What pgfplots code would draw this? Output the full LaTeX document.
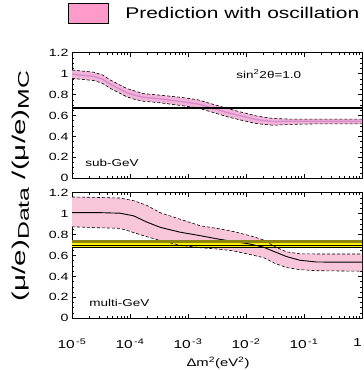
\documentclass[border=0pt]{standalone}
\usepackage{fontspec}
\setmainfont{Liberation Sans}[FakeStretch=1.35]
\newfontfamily\widefont{Liberation Sans}[FakeStretch=1.6]
\usepackage{pgfplots}
\pgfplotsset{compat=1.18}
\usepackage{pgfplotstable}
\usepgfplotslibrary{fillbetween}
\definecolor{bandtop}{HTML}{F0B4D8}
\definecolor{linetop}{HTML}{D68ACB}
\definecolor{bandbot}{HTML}{F8C6DA}
\definecolor{legpink}{HTML}{FF9ACB}
\definecolor{olivec}{HTML}{8C8410}
\definecolor{ybar}{HTML}{FFF200}

\pgfplotstableread{
x c u l
1e-5 0.995 1.035 0.955
2.34e-5 0.975 1.015 0.935
3.3e-5 0.95 0.99 0.91
4.57e-5 0.90 0.94 0.86
6.3e-5 0.86 0.90 0.82
8.71e-5 0.82 0.86 0.78
1.2e-4 0.795 0.835 0.755
1.70e-4 0.775 0.81 0.737
3.31e-4 0.76 0.795 0.722
7.24e-4 0.735 0.775 0.697
1.45e-3 0.712 0.752 0.674
2.69e-3 0.67 0.708 0.63
5.01e-3 0.625 0.665 0.585
7.94e-3 0.598 0.635 0.558
1.55e-2 0.56 0.595 0.522
2.95e-2 0.543 0.572 0.507
5.75e-2 0.545 0.566 0.515
1.45e-1 0.545 0.566 0.52
1 0.545 0.566 0.52
}\subgev

\pgfplotstableread{
x c u l
1e-5 1.01 1.16 0.875
3.16e-5 1.01 1.155 0.865
6.76e-5 1.005 1.15 0.86
1.15e-4 0.98 1.125 0.82
1.95e-4 0.92 1.08 0.78
3.31e-4 0.87 1.01 0.745
7.08e-4 0.825 0.95 0.70
1.62e-3 0.79 0.885 0.675
3.55e-3 0.755 0.855 0.66
6.03e-3 0.735 0.83 0.645
1.17e-2 0.71 0.79 0.61
2.0e-2 0.68 0.75 0.58
3.16e-2 0.635 0.685 0.525
5.01e-2 0.59 0.635 0.485
8.51e-2 0.555 0.617 0.465
1.66e-1 0.538 0.615 0.455
1 0.537 0.615 0.45
}\multigev

\pgfplotstableread{
x lo hi mid
1e-5 0.68 0.735 0.70
1 0.68 0.735 0.70
}\datamulti

\pgfplotstableread{
x y
1e-5 0.67
1 0.67
}\datasub

\pgfplotsset{
  mypanel/.style={
    scale only axis, width=290pt, height=125.5pt,
    xmin=1e-5, xmax=1, ymin=0, ymax=1.2,
    ytick={0,0.2,0.4,0.6,0.8,1,1.2},
    minor y tick num=3,
    xtick={1e-5,1e-4,1e-3,1e-2,1e-1,1},
    minor xtick={2e-5,3e-5,4e-5,5e-5,6e-5,7e-5,8e-5,9e-5,2e-4,3e-4,4e-4,5e-4,6e-4,7e-4,8e-4,9e-4,2e-3,3e-3,4e-3,5e-3,6e-3,7e-3,8e-3,9e-3,2e-2,3e-2,4e-2,5e-2,6e-2,7e-2,8e-2,9e-2,0.2,0.3,0.4,0.5,0.6,0.7,0.8,0.9},
    /pgf/number format/assume math mode=true,
    tick label style={font=\fontsize{10.5}{12}\selectfont},
    axis line style={line width=0.9pt},
    every tick/.style={black, line width=0.7pt},
    major tick length=4.5pt, minor tick length=2.5pt,
    tick align=inside,
  }
}

\begin{document}
\begin{tikzpicture}
% ---------- top panel: sub-GeV
\begin{axis}[xmode=log, mypanel, at={(72pt,191.7pt)}, anchor=south west,
  xticklabels={},
  legend style={draw=none, fill=none, at={(axis description cs:-0.014,1.395)}, anchor=north west,
    font=\fontsize{15.5}{18}\selectfont, inner sep=0pt, outer sep=0pt,
    /tikz/every odd column/.style={column sep=15pt}},
  legend cell align=left,
]
\addlegendimage{legend image code/.code={\draw[fill=legpink, draw=black, line width=0.5pt] (0pt,-10pt) rectangle (40pt,10pt);}}
\addlegendentry{Prediction with oscillation}
\addplot[draw=none, name path=su, forget plot] table[x=x, y=u] {\subgev};
\addplot[draw=none, name path=sl, forget plot] table[x=x, y=l] {\subgev};
\addplot[fill=bandtop, draw=none, forget plot] fill between[of=su and sl];
\addplot[linetop, line width=1.3pt, forget plot] table[x=x, y=c] {\subgev};
\addplot[black, dash pattern=on 3pt off 2pt, line width=0.6pt, forget plot] table[x=x, y=u] {\subgev};
\addplot[black, dash pattern=on 3pt off 2pt, line width=0.6pt, forget plot] table[x=x, y=l] {\subgev};
\addplot[black, line width=2.2pt, forget plot] table[x=x, y=y] {\datasub};
\node[anchor=west, font=\fontsize{10}{12}\selectfont] at (rel axis cs:0.555,0.83) {sin\textsuperscript{2}2θ=1.0};
\node[anchor=west, font=\fontsize{10}{12}\selectfont] at (rel axis cs:0.034,0.12) {sub-GeV};
\end{axis}
% ---------- bottom panel: multi-GeV
\begin{axis}[xmode=log, mypanel, at={(72pt,51.7pt)}, anchor=south west,
  xticklabels={10\textsuperscript{\,-5},10\textsuperscript{\,-4},10\textsuperscript{\,-3},10\textsuperscript{\,-2},10\textsuperscript{\,-1},\makebox[18pt][l]{1}},
  xticklabel style={font=\fontsize{11.5}{13}\selectfont, yshift=-17pt},
]
\addplot[draw=none, name path=mu] table[x=x, y=u] {\multigev};
\addplot[draw=none, name path=ml] table[x=x, y=l] {\multigev};
\addplot[fill=bandbot, draw=none] fill between[of=mu and ml];
\addplot[black, line width=0.9pt] table[x=x, y=c] {\multigev};
\addplot[black, dash pattern=on 3pt off 2pt, line width=0.6pt] table[x=x, y=u] {\multigev};
\addplot[black, dash pattern=on 3pt off 2pt, line width=0.6pt] table[x=x, y=l] {\multigev};
\addplot[draw=none, name path=dl] table[x=x, y=lo] {\datamulti};
\addplot[draw=none, name path=dh] table[x=x, y=hi] {\datamulti};
\addplot[fill=ybar, draw=none] fill between[of=dl and dh];
\addplot[black, line width=0.5pt] table[x=x, y=lo] {\datamulti};
\addplot[olivec, line width=2.3pt] table[x=x, y=hi] {\datamulti};
\addplot[black, line width=0.7pt] table[x=x, y=mid] {\datamulti};
\node[anchor=west, font=\fontsize{10}{12}\selectfont] at (rel axis cs:0.048,0.123) {multi-GeV};
\end{axis}
\node[font=\fontsize{11}{13}\selectfont] at (218pt,7pt) {Δm\textsuperscript{2}(eV\textsuperscript{2})};
\node[rotate=90, font=\widefont\fontsize{18.5}{22}\selectfont] at (20.5pt,184pt)
  {(μ/e)\raisebox{-3.5pt}{\fontsize{15.5}{18}\selectfont Data} /(μ/e)\raisebox{-3.5pt}{\fontsize{15.5}{18}\selectfont MC}};
\pgfresetboundingbox
\path (0pt,0pt) rectangle (364pt,370pt);
\end{tikzpicture}
\end{document}
